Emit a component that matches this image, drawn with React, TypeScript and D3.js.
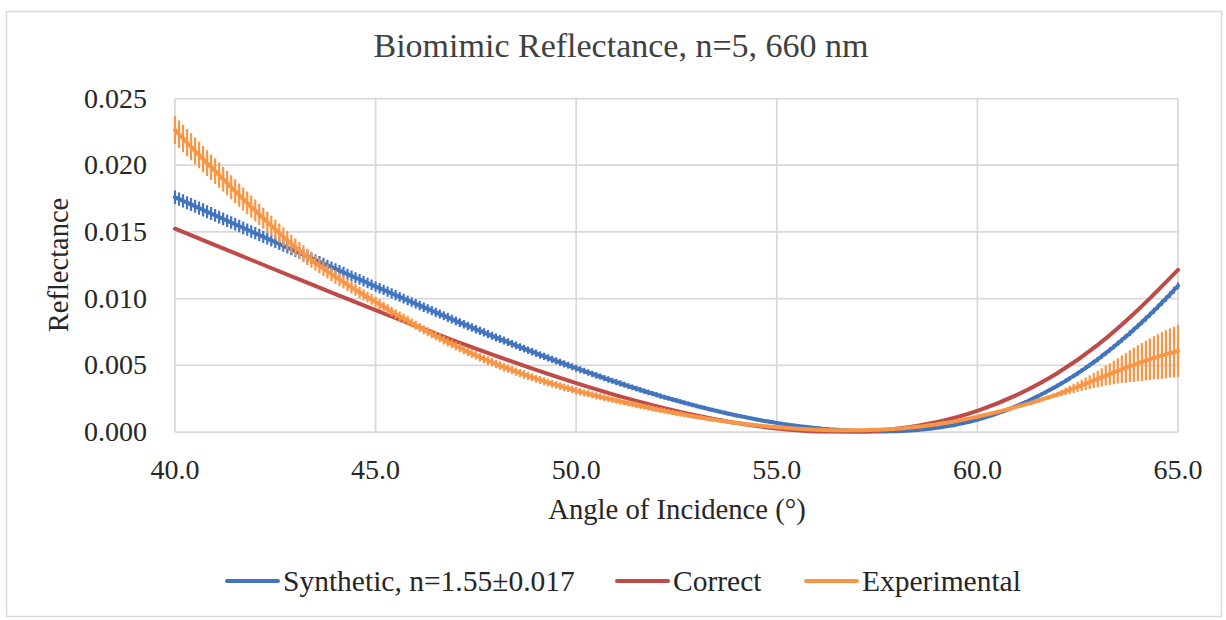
import React from 'react';
import * as d3 from 'd3';

const TITLE = 'Biomimic Reflectance, n=5, 660 nm';
const X_LABEL = 'Angle of Incidence (°)';
const Y_LABEL = 'Reflectance';
const SERIES_NAMES = ['Synthetic, n=1.55±0.017', 'Correct', 'Experimental'];
const SERIES_COLORS = ['#4275BE', '#BE4B48', '#F79646'];
const X_TICKS = [40, 45, 50, 55, 60, 65];
const Y_TICKS = [0, 0.005, 0.01, 0.015, 0.02, 0.025];

// dense series sampled every 0.1 degree from 40.0 to 65.0
const ANGLE_START = 40;
const ANGLE_STEP = 0.1;

const SYNTHETIC = [
  0.01760, 0.01746, 0.01733, 0.01719, 0.01706, 0.01692, 0.01678, 0.01665, 0.01651, 0.01638,
  0.01624, 0.01611, 0.01597, 0.01584, 0.01570, 0.01557, 0.01544, 0.01530, 0.01517, 0.01503,
  0.01490, 0.01477, 0.01463, 0.01450, 0.01436, 0.01423, 0.01410, 0.01396, 0.01383, 0.01369,
  0.01356, 0.01343, 0.01329, 0.01316, 0.01303, 0.01290, 0.01276, 0.01263, 0.01250, 0.01236,
  0.01223, 0.01210, 0.01197, 0.01183, 0.01170, 0.01157, 0.01144, 0.01131, 0.01117, 0.01104,
  0.01091, 0.01078, 0.01065, 0.01052, 0.01039, 0.01026, 0.01013, 0.01000, 0.00987, 0.00974,
  0.00961, 0.00948, 0.00935, 0.00923, 0.00910, 0.00897, 0.00884, 0.00871, 0.00859, 0.00846,
  0.00833, 0.00820, 0.00808, 0.00795, 0.00783, 0.00770, 0.00758, 0.00746, 0.00733, 0.00721,
  0.00709, 0.00697, 0.00685, 0.00673, 0.00661, 0.00649, 0.00637, 0.00625, 0.00613, 0.00602,
  0.00590, 0.00578, 0.00567, 0.00556, 0.00544, 0.00533, 0.00522, 0.00511, 0.00500, 0.00489,
  0.00478, 0.00467, 0.00457, 0.00446, 0.00435, 0.00425, 0.00415, 0.00404, 0.00394, 0.00384,
  0.00374, 0.00364, 0.00354, 0.00344, 0.00335, 0.00325, 0.00316, 0.00306, 0.00297, 0.00288,
  0.00279, 0.00270, 0.00261, 0.00253, 0.00244, 0.00236, 0.00227, 0.00219, 0.00211, 0.00203,
  0.00195, 0.00187, 0.00180, 0.00172, 0.00165, 0.00158, 0.00151, 0.00144, 0.00137, 0.00130,
  0.00124, 0.00118, 0.00112, 0.00106, 0.00100, 0.00094, 0.00088, 0.00083, 0.00078, 0.00073,
  0.00068, 0.00063, 0.00059, 0.00054, 0.00050, 0.00046, 0.00042, 0.00039, 0.00035, 0.00032,
  0.00029, 0.00026, 0.00023, 0.00021, 0.00018, 0.00016, 0.00014, 0.00012, 0.00011, 0.00009,
  0.00008, 0.00007, 0.00006, 0.00005, 0.00004, 0.00004, 0.00004, 0.00004, 0.00005, 0.00005,
  0.00006, 0.00007, 0.00009, 0.00011, 0.00013, 0.00015, 0.00018, 0.00021, 0.00024, 0.00028,
  0.00032, 0.00036, 0.00041, 0.00046, 0.00051, 0.00057, 0.00063, 0.00070, 0.00077, 0.00084,
  0.00092, 0.00101, 0.00110, 0.00119, 0.00129, 0.00139, 0.00150, 0.00161, 0.00173, 0.00185,
  0.00198, 0.00211, 0.00224, 0.00238, 0.00253, 0.00267, 0.00283, 0.00298, 0.00314, 0.00331,
  0.00348, 0.00365, 0.00383, 0.00402, 0.00421, 0.00440, 0.00460, 0.00481, 0.00502, 0.00523,
  0.00545, 0.00568, 0.00591, 0.00615, 0.00639, 0.00664, 0.00689, 0.00715, 0.00741, 0.00768,
  0.00795, 0.00823, 0.00851, 0.00880, 0.00909, 0.00939, 0.00969, 0.01000, 0.01031, 0.01063,
  0.01095,
];

const SYNTHETIC_ERR = [
  0.00050, 0.00050, 0.00050, 0.00049, 0.00049, 0.00049, 0.00049, 0.00049, 0.00048, 0.00048,
  0.00048, 0.00048, 0.00048, 0.00047, 0.00047, 0.00047, 0.00047, 0.00047, 0.00046, 0.00046,
  0.00046, 0.00046, 0.00046, 0.00045, 0.00045, 0.00045, 0.00045, 0.00045, 0.00044, 0.00044,
  0.00044, 0.00044, 0.00044, 0.00043, 0.00043, 0.00043, 0.00043, 0.00043, 0.00042, 0.00042,
  0.00042, 0.00042, 0.00041, 0.00041, 0.00041, 0.00041, 0.00040, 0.00040, 0.00040, 0.00039,
  0.00039, 0.00039, 0.00038, 0.00038, 0.00038, 0.00038, 0.00037, 0.00037, 0.00037, 0.00036,
  0.00036, 0.00036, 0.00035, 0.00035, 0.00035, 0.00035, 0.00034, 0.00034, 0.00034, 0.00033,
  0.00033, 0.00033, 0.00032, 0.00032, 0.00032, 0.00032, 0.00031, 0.00031, 0.00031, 0.00030,
  0.00030, 0.00030, 0.00030, 0.00029, 0.00029, 0.00029, 0.00029, 0.00029, 0.00028, 0.00028,
  0.00028, 0.00028, 0.00028, 0.00027, 0.00027, 0.00027, 0.00027, 0.00027, 0.00026, 0.00026,
  0.00026, 0.00026, 0.00025, 0.00025, 0.00025, 0.00025, 0.00024, 0.00024, 0.00024, 0.00023,
  0.00023, 0.00023, 0.00022, 0.00022, 0.00022, 0.00022, 0.00021, 0.00021, 0.00021, 0.00020,
  0.00020, 0.00020, 0.00019, 0.00019, 0.00019, 0.00019, 0.00018, 0.00018, 0.00018, 0.00017,
  0.00017, 0.00017, 0.00016, 0.00016, 0.00016, 0.00016, 0.00015, 0.00015, 0.00015, 0.00014,
  0.00014, 0.00014, 0.00013, 0.00013, 0.00013, 0.00013, 0.00012, 0.00012, 0.00012, 0.00011,
  0.00011, 0.00011, 0.00010, 0.00010, 0.00009, 0.00009, 0.00009, 0.00008, 0.00008, 0.00007,
  0.00007, 0.00007, 0.00006, 0.00006, 0.00006, 0.00006, 0.00005, 0.00005, 0.00005, 0.00004,
  0.00004, 0.00004, 0.00003, 0.00003, 0.00003, 0.00003, 0.00003, 0.00003, 0.00004, 0.00004,
  0.00004, 0.00004, 0.00005, 0.00005, 0.00005, 0.00006, 0.00006, 0.00006, 0.00007, 0.00007,
  0.00007, 0.00007, 0.00008, 0.00008, 0.00008, 0.00009, 0.00009, 0.00009, 0.00010, 0.00010,
  0.00010, 0.00010, 0.00010, 0.00011, 0.00011, 0.00011, 0.00011, 0.00011, 0.00012, 0.00012,
  0.00012, 0.00012, 0.00013, 0.00013, 0.00013, 0.00014, 0.00014, 0.00014, 0.00015, 0.00015,
  0.00015, 0.00015, 0.00016, 0.00016, 0.00016, 0.00017, 0.00017, 0.00017, 0.00018, 0.00018,
  0.00018, 0.00018, 0.00019, 0.00019, 0.00019, 0.00020, 0.00020, 0.00020, 0.00021, 0.00021,
  0.00021, 0.00021, 0.00022, 0.00022, 0.00023, 0.00023, 0.00023, 0.00024, 0.00024, 0.00025,
  0.00025,
];

const EXPERIMENTAL = [
  0.02264, 0.02232, 0.02201, 0.02170, 0.02139, 0.02108, 0.02077, 0.02046, 0.02016, 0.01985,
  0.01955, 0.01925, 0.01895, 0.01865, 0.01835, 0.01805, 0.01776, 0.01747, 0.01718, 0.01689,
  0.01660, 0.01631, 0.01602, 0.01574, 0.01546, 0.01518, 0.01491, 0.01464, 0.01437, 0.01411,
  0.01385, 0.01361, 0.01337, 0.01313, 0.01291, 0.01268, 0.01246, 0.01224, 0.01203, 0.01182,
  0.01162, 0.01142, 0.01123, 0.01103, 0.01084, 0.01066, 0.01047, 0.01029, 0.01010, 0.00993,
  0.00975, 0.00957, 0.00939, 0.00921, 0.00903, 0.00885, 0.00868, 0.00851, 0.00834, 0.00817,
  0.00800, 0.00784, 0.00767, 0.00751, 0.00736, 0.00720, 0.00705, 0.00689, 0.00674, 0.00660,
  0.00645, 0.00631, 0.00616, 0.00602, 0.00588, 0.00575, 0.00561, 0.00548, 0.00535, 0.00523,
  0.00510, 0.00498, 0.00486, 0.00475, 0.00463, 0.00452, 0.00441, 0.00431, 0.00420, 0.00410,
  0.00400, 0.00390, 0.00381, 0.00371, 0.00362, 0.00353, 0.00344, 0.00335, 0.00327, 0.00318,
  0.00310, 0.00302, 0.00294, 0.00287, 0.00279, 0.00271, 0.00264, 0.00257, 0.00250, 0.00243,
  0.00236, 0.00229, 0.00222, 0.00215, 0.00209, 0.00202, 0.00195, 0.00189, 0.00183, 0.00176,
  0.00170, 0.00164, 0.00158, 0.00152, 0.00146, 0.00140, 0.00135, 0.00129, 0.00124, 0.00118,
  0.00113, 0.00108, 0.00103, 0.00098, 0.00093, 0.00089, 0.00084, 0.00080, 0.00076, 0.00072,
  0.00068, 0.00064, 0.00061, 0.00057, 0.00054, 0.00050, 0.00047, 0.00044, 0.00041, 0.00039,
  0.00036, 0.00033, 0.00031, 0.00029, 0.00027, 0.00025, 0.00023, 0.00021, 0.00020, 0.00018,
  0.00017, 0.00016, 0.00015, 0.00014, 0.00014, 0.00013, 0.00013, 0.00013, 0.00013, 0.00013,
  0.00013, 0.00013, 0.00014, 0.00015, 0.00016, 0.00017, 0.00018, 0.00019, 0.00021, 0.00023,
  0.00025, 0.00027, 0.00030, 0.00033, 0.00036, 0.00039, 0.00042, 0.00046, 0.00050, 0.00054,
  0.00058, 0.00063, 0.00068, 0.00073, 0.00078, 0.00084, 0.00090, 0.00096, 0.00102, 0.00108,
  0.00115, 0.00122, 0.00129, 0.00136, 0.00143, 0.00150, 0.00158, 0.00166, 0.00174, 0.00182,
  0.00190, 0.00198, 0.00207, 0.00215, 0.00224, 0.00233, 0.00243, 0.00252, 0.00262, 0.00272,
  0.00282, 0.00293, 0.00304, 0.00315, 0.00327, 0.00338, 0.00350, 0.00362, 0.00374, 0.00386,
  0.00398, 0.00410, 0.00422, 0.00434, 0.00446, 0.00458, 0.00470, 0.00481, 0.00493, 0.00504,
  0.00515, 0.00525, 0.00535, 0.00545, 0.00555, 0.00564, 0.00573, 0.00582, 0.00591, 0.00599,
  0.00607,
];

const EXPERIMENTAL_ERR = [
  0.00105, 0.00104, 0.00103, 0.00102, 0.00101, 0.00100, 0.00099, 0.00098, 0.00097, 0.00096,
  0.00095, 0.00094, 0.00092, 0.00091, 0.00090, 0.00089, 0.00087, 0.00086, 0.00085, 0.00083,
  0.00082, 0.00080, 0.00079, 0.00077, 0.00076, 0.00074, 0.00072, 0.00071, 0.00069, 0.00068,
  0.00066, 0.00064, 0.00063, 0.00061, 0.00060, 0.00058, 0.00056, 0.00055, 0.00053, 0.00052,
  0.00050, 0.00049, 0.00048, 0.00046, 0.00045, 0.00044, 0.00043, 0.00042, 0.00040, 0.00039,
  0.00038, 0.00038, 0.00037, 0.00037, 0.00036, 0.00036, 0.00036, 0.00035, 0.00035, 0.00034,
  0.00034, 0.00034, 0.00034, 0.00034, 0.00034, 0.00033, 0.00033, 0.00033, 0.00033, 0.00033,
  0.00033, 0.00033, 0.00033, 0.00033, 0.00033, 0.00032, 0.00032, 0.00032, 0.00032, 0.00032,
  0.00032, 0.00032, 0.00032, 0.00031, 0.00031, 0.00031, 0.00031, 0.00031, 0.00030, 0.00030,
  0.00030, 0.00030, 0.00030, 0.00029, 0.00029, 0.00029, 0.00029, 0.00029, 0.00028, 0.00028,
  0.00028, 0.00028, 0.00027, 0.00027, 0.00027, 0.00027, 0.00026, 0.00026, 0.00026, 0.00025,
  0.00025, 0.00025, 0.00024, 0.00024, 0.00024, 0.00024, 0.00023, 0.00023, 0.00023, 0.00022,
  0.00022, 0.00022, 0.00021, 0.00021, 0.00020, 0.00020, 0.00020, 0.00019, 0.00019, 0.00018,
  0.00018, 0.00018, 0.00017, 0.00017, 0.00016, 0.00016, 0.00015, 0.00015, 0.00014, 0.00014,
  0.00013, 0.00013, 0.00012, 0.00012, 0.00011, 0.00011, 0.00010, 0.00010, 0.00009, 0.00009,
  0.00008, 0.00008, 0.00007, 0.00007, 0.00007, 0.00007, 0.00006, 0.00006, 0.00006, 0.00005,
  0.00005, 0.00005, 0.00005, 0.00005, 0.00005, 0.00004, 0.00004, 0.00004, 0.00004, 0.00004,
  0.00004, 0.00004, 0.00004, 0.00004, 0.00004, 0.00004, 0.00004, 0.00004, 0.00004, 0.00004,
  0.00004, 0.00004, 0.00004, 0.00004, 0.00004, 0.00004, 0.00004, 0.00004, 0.00004, 0.00004,
  0.00004, 0.00004, 0.00004, 0.00004, 0.00004, 0.00004, 0.00004, 0.00004, 0.00004, 0.00004,
  0.00004, 0.00004, 0.00004, 0.00004, 0.00004, 0.00004, 0.00004, 0.00004, 0.00004, 0.00004,
  0.00004, 0.00005, 0.00006, 0.00007, 0.00007, 0.00008, 0.00010, 0.00013, 0.00015, 0.00018,
  0.00020, 0.00023, 0.00027, 0.00031, 0.00034, 0.00038, 0.00042, 0.00047, 0.00052, 0.00057,
  0.00062, 0.00068, 0.00074, 0.00081, 0.00088, 0.00095, 0.00103, 0.00111, 0.00119, 0.00127,
  0.00135, 0.00142, 0.00149, 0.00156, 0.00162, 0.00168, 0.00174, 0.00180, 0.00185, 0.00190,
  0.00195,
];

// "Correct" series, one value per degree
const CORRECT_ANGLES = [40, 41, 42, 43, 44, 45, 46, 47, 48, 49, 50, 51, 52, 53, 54, 55, 56, 57, 58, 59, 60, 61, 62, 63, 64, 65];
const CORRECT = [
  0.01524, 0.01401, 0.01278, 0.01155, 0.01033, 0.00913, 0.00795, 0.00680, 0.00570, 0.00465,
  0.00366, 0.00275, 0.00194, 0.00124, 0.00067, 0.00026, 0.00004, 0.00002, 0.00025, 0.00076,
  0.00159, 0.00280, 0.00442, 0.00653, 0.00915, 0.01215,
];

type Pt = { a: number; v: number; e: number };

export default function App() {
  const W = 1226;
  const H = 620;
  const plotL = 175;
  const plotR = 1178;
  const plotT = 98.5;
  const plotB = 432;

  const x = d3.scaleLinear().domain([40, 65]).range([plotL, plotR]);
  const y = d3.scaleLinear().domain([0, 0.025]).range([plotB, plotT]);

  const angleAt = (i: number) => Math.round((ANGLE_START + i * ANGLE_STEP) * 10) / 10;

  const synth: Pt[] = SYNTHETIC.map((v, i) => ({ a: angleAt(i), v, e: SYNTHETIC_ERR[i] }));
  const expt: Pt[] = EXPERIMENTAL.map((v, i) => ({ a: angleAt(i), v, e: EXPERIMENTAL_ERR[i] }));
  const corr: Pt[] = CORRECT.map((v, i) => ({ a: CORRECT_ANGLES[i], v, e: 0 }));

  const line = d3
    .line<Pt>()
    .x((d) => x(d.a))
    .y((d) => y(d.v))
    .curve(d3.curveMonotoneX);

  const errPath = (pts: Pt[]) => {
    const p = d3.path();
    pts.forEach((d) => {
      p.moveTo(x(d.a), y(d.v + d.e));
      p.lineTo(x(d.a), y(d.v - d.e));
    });
    return p.toString();
  };

  const fmtY = d3.format('.3f');
  const fmtX = d3.format('.1f');
  const font = "'Liberation Serif', 'Times New Roman', serif";

  const legendItems = [
    { name: SERIES_NAMES[0], color: SERIES_COLORS[0], x0: 227 },
    { name: SERIES_NAMES[1], color: SERIES_COLORS[1], x0: 617 },
    { name: SERIES_NAMES[2], color: SERIES_COLORS[2], x0: 806 },
  ];

  return (
    <svg
      width={W}
      height={H}
      style={{ position: 'absolute', left: 0, top: 0, background: '#ffffff' }}
      fontFamily={font}
    >
      <rect x={0} y={0} width={W} height={H} fill="#ffffff" />
      <rect x={6.5} y={11.5} width={1215} height={605} fill="none" stroke="#d9d9d9" strokeWidth={1.5} />

      {/* gridlines */}
      {Y_TICKS.map((t) => (
        <line key={'gy' + t} x1={plotL} x2={plotR} y1={y(t)} y2={y(t)} stroke="#d9d9d9" strokeWidth={1.75} />
      ))}
      {X_TICKS.map((t) => (
        <line key={'gx' + t} x1={x(t)} x2={x(t)} y1={plotT} y2={plotB} stroke="#d9d9d9" strokeWidth={1.75} />
      ))}

      {/* title */}
      <text x={621} y={57} textAnchor="middle" fontSize={34} fill="#404040">
        {TITLE}
      </text>

      {/* y tick labels */}
      {Y_TICKS.map((t) => (
        <text key={'ty' + t} x={147} y={y(t) + 9} textAnchor="end" fontSize={28} fill="#262626">
          {fmtY(t)}
        </text>
      ))}
      {/* x tick labels */}
      {X_TICKS.map((t) => (
        <text key={'tx' + t} x={x(t)} y={479} textAnchor="middle" fontSize={28} fill="#262626">
          {fmtX(t)}
        </text>
      ))}

      {/* axis titles */}
      <text x={677} y={519} textAnchor="middle" fontSize={28.7} fill="#262626">
        {X_LABEL}
      </text>
      <text transform="translate(68,265) rotate(-90)" textAnchor="middle" fontSize={28.5} fill="#262626">
        {Y_LABEL}
      </text>

      {/* synthetic */}
      <path d={errPath(synth)} stroke={SERIES_COLORS[0]} strokeWidth={2.2} fill="none" />
      <path d={line(synth) || ''} stroke={SERIES_COLORS[0]} strokeWidth={4} fill="none" strokeLinecap="round" />

      {/* correct */}
      <path d={line(corr) || ''} stroke={SERIES_COLORS[1]} strokeWidth={4} fill="none" strokeLinecap="round" />

      {/* experimental */}
      <path d={errPath(expt)} stroke={SERIES_COLORS[2]} strokeWidth={2.2} fill="none" />
      <path d={line(expt) || ''} stroke={SERIES_COLORS[2]} strokeWidth={4} fill="none" strokeLinecap="round" />

      {/* legend */}
      {legendItems.map((it) => (
        <g key={it.name}>
          <line x1={it.x0} x2={it.x0 + 51} y1={581} y2={581} stroke={it.color} strokeWidth={4} strokeLinecap="round" />
          <text x={it.x0 + 56} y={591} fontSize={29.5} fill="#262626">
            {it.name}
          </text>
        </g>
      ))}
    </svg>
  );
}
